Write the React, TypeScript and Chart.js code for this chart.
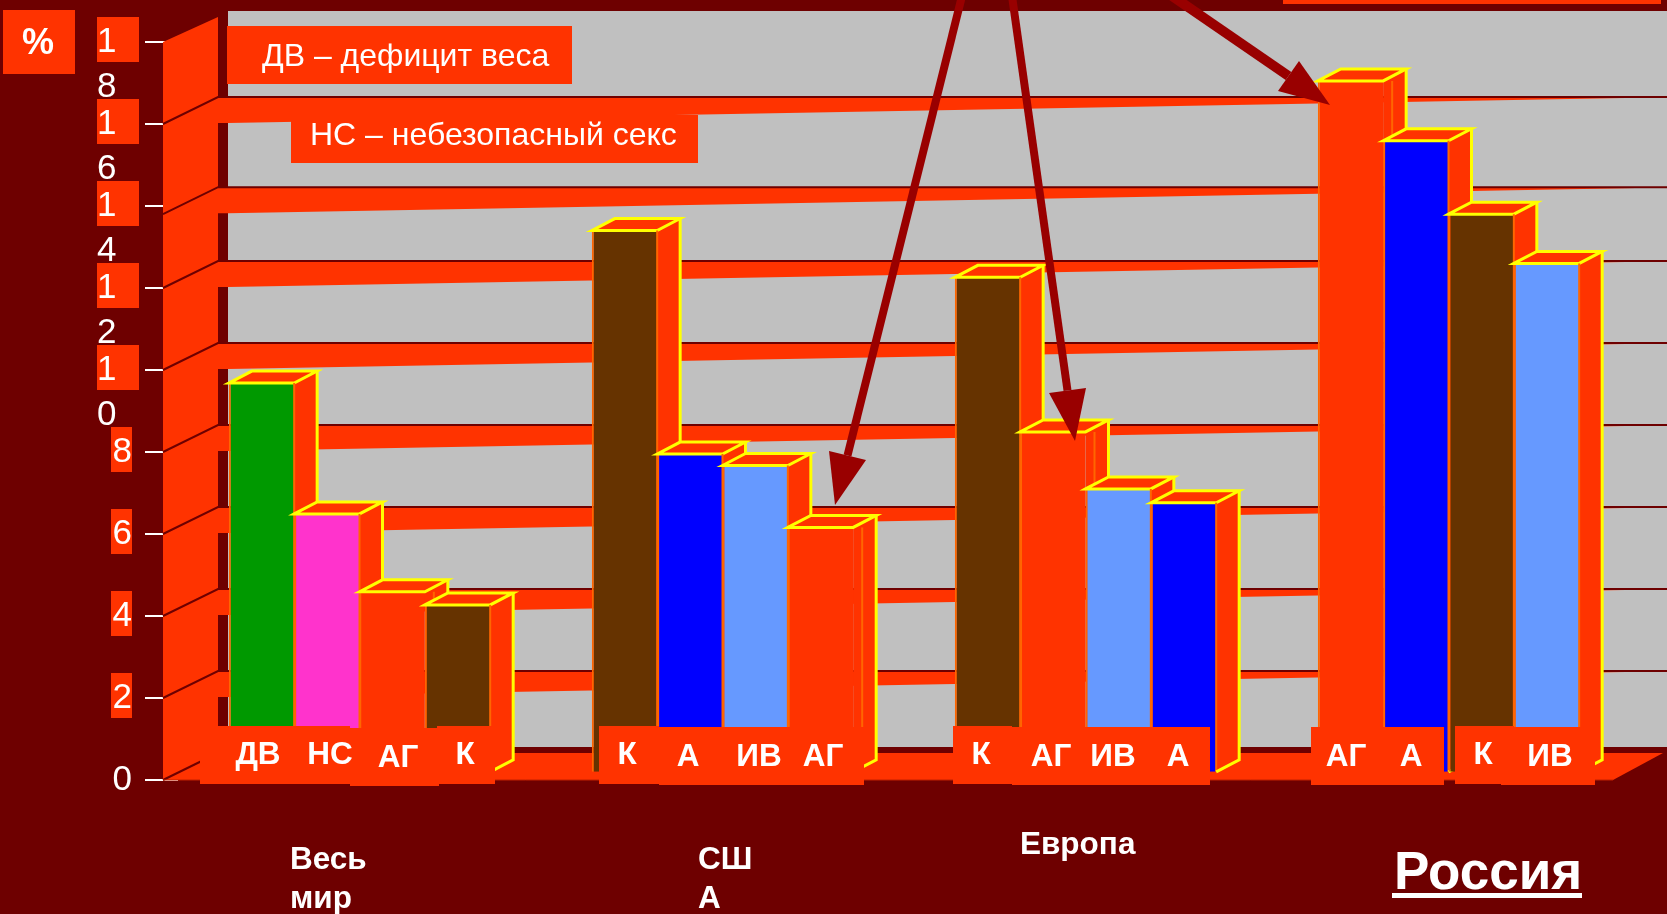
import React, { useEffect, useRef } from "react";
import { Chart, registerables } from "chart.js";

Chart.register(...registerables);

const regions = ["Весь мир", "США", "Европа", "Россия"];
const firstBar = [9.68, 13.4, 12.26, 17.05];
const secondBar = [6.49, 7.95, 8.49, 15.59];
const thirdBar = [4.59, 7.67, 7.1, 13.8];
const fourthBar = [4.27, 6.16, 6.76, 12.6];
const firstFactor = ["ДВ", "К", "К", "АГ"];
const secondFactor = ["НС", "А", "АГ", "А"];
const thirdFactor = ["АГ", "ИВ", "ИВ", "К"];
const fourthFactor = ["К", "АГ", "А", "ИВ"];
const gridValues = [2, 4, 6, 8, 10, 12, 13.8, 16];
const boxedTicks = [2, 4, 6, 8, 10, 12, 14, 16, 18];

const BG = "#6E0000";
const ORANGE = "#FF3300";
const EDGE = "#FF6600";
const YELLOW = "#FFFF00";
const GREY = "#C0C0C0";
const ARROW = "#990000";
const FONT = '"Liberation Sans", Arial, sans-serif';
const factorColor: Record<string, string> = {
  ДВ: "#009900",
  НС: "#FF33CC",
  АГ: ORANGE,
  К: "#663300",
  А: "#0000FF",
  ИВ: "#6699FF",
};

const WALL_X = 163;
const BACK_X = 218;
const GREY_X = 228;
const RIGHT = 1667;
const FLOOR_RIGHT = 1613;
const DEPTH_Y = 27;
const BAR_DX = 23;
const BAR_DY = 12;

// label plates under the bars: x0, x1, y0, y1
const plates = [
  [200, 350, 726, 784],
  [437, 495, 726, 784],
  [350, 439, 728, 786],
  [599, 659, 726, 784],
  [659, 864, 727, 785],
  [953, 1012, 726, 784],
  [1012, 1210, 727, 785],
  [1311, 1444, 727, 785],
  [1455, 1514, 726, 784],
  [1501, 1595, 727, 785],
];
// x centre and baseline of the factor names, by region and position
const factorX = [
  [258, 330, 398, 465],
  [627, 688, 759, 823],
  [981, 1051, 1113, 1178],
  [1346, 1411, 1483, 1550],
];
const factorBase = [
  [764, 764, 767, 764],
  [764, 766, 766, 766],
  [764, 766, 766, 766],
  [766, 766, 764, 766],
];
// shaft start, tip, two head corners, shaft width
const arrows = [
  [962, -4, 835, 505, 829, 451, 866, 460, 8],
  [1012, -4, 1075, 441, 1049, 393, 1086, 388, 8],
  [1172, -4, 1330, 105, 1299, 61, 1278, 91, 10],
];

function poly(ctx: CanvasRenderingContext2D, pts: number[][], fill?: string, stroke?: string, lw = 2) {
  ctx.beginPath();
  pts.forEach((p, i) => (i ? ctx.lineTo(p[0], p[1]) : ctx.moveTo(p[0], p[1])));
  ctx.closePath();
  if (fill) {
    ctx.fillStyle = fill;
    ctx.fill();
  }
  if (stroke) {
    ctx.strokeStyle = stroke;
    ctx.lineWidth = lw;
    ctx.lineJoin = "miter";
    ctx.stroke();
  }
}
function line(ctx: CanvasRenderingContext2D, pts: number[][], color: string, lw: number) {
  ctx.beginPath();
  pts.forEach((p, i) => (i ? ctx.lineTo(p[0], p[1]) : ctx.moveTo(p[0], p[1])));
  ctx.strokeStyle = color;
  ctx.lineWidth = lw;
  ctx.stroke();
}
function text(ctx: CanvasRenderingContext2D, s: string, x: number, y: number, font: string, align: CanvasTextAlign = "left") {
  ctx.font = font;
  ctx.textAlign = align;
  ctx.textBaseline = "alphabetic";
  ctx.fillStyle = "#FFFFFF";
  ctx.fillText(s, x, y);
}

const factorsByDataset = [firstFactor, secondFactor, thirdFactor, fourthFactor];

const scene = {
  id: "scene",
  beforeDraw(chart: any) {
    const { ctx } = chart;
    const y = chart.scales.y;
    ctx.save();
    ctx.fillStyle = ORANGE;
    boxedTicks.forEach((v) => {
      const py = y.getPixelForValue(v);
      if (v >= 10) ctx.fillRect(97, py - 25, 42, 45);
      else ctx.fillRect(111, py - 25, 21, 45);
    });
    ctx.fillRect(3, 10, 72, 64);
    ctx.restore();
  },
  beforeDatasetsDraw(chart: any) {
    const { ctx } = chart;
    const y = chart.scales.y;
    const zero = y.getPixelForValue(0);
    const top = y.getPixelForValue(18);
    const floorBack = zero - DEPTH_Y;
    ctx.save();
    ctx.fillStyle = GREY;
    ctx.fillRect(GREY_X, 11, RIGHT - GREY_X, floorBack - 6 - 11);
    // side wall
    poly(ctx, [[WALL_X, top], [BACK_X, top - 25], [BACK_X, floorBack], [WALL_X, zero]], ORANGE);
    // floor
    poly(ctx, [[WALL_X, zero], [BACK_X, floorBack], [RIGHT - 4, floorBack], [FLOOR_RIGHT, zero]], ORANGE);
    // grid shelves
    gridValues.forEach((v) => {
      const front = y.getPixelForValue(v);
      const back = front - DEPTH_Y;
      poly(ctx, [[BACK_X, back], [RIGHT, back], [1625, back + 1], [GREY_X, back + 26], [BACK_X, back + 26]], ORANGE);
      line(ctx, [[WALL_X, front], [BACK_X, back], [RIGHT, back]], BG, 2);
    });
    line(ctx, [[WALL_X, zero], [BACK_X, floorBack]], BG, 2);
    line(ctx, [[WALL_X, zero], [FLOOR_RIGHT, zero]], "#C02000", 1);
    ctx.restore();
  },
  // the library paints the leftmost dataset last; these bars need the rightmost on top
  beforeDatasetDraw() {
    return false;
  },
  afterDatasetsDraw(chart: any) {
    const { ctx } = chart;
    factorsByDataset.forEach((factors, index) => {
      const meta = chart.getDatasetMeta(index);
      meta.controller.draw();
      ctx.save();
      meta.data.forEach((bar: any, i: number) => {
        const l = bar.x - bar.width / 2;
        const r = bar.x + bar.width / 2;
        const t = bar.y;
        const b = bar.base;
        poly(ctx, [[r, t], [r + BAR_DX, t - BAR_DY], [r + BAR_DX, b - BAR_DY], [r, b]], ORANGE);
        poly(ctx, [[l, t], [l + BAR_DX, t - BAR_DY], [r + BAR_DX, t - BAR_DY], [r, t]], ORANGE, YELLOW, 3);
        if (factors[i] === "АГ") line(ctx, [[r + 9, t], [r + 9, b]], EDGE, 2);
        else line(ctx, [[r, t], [r, b]], EDGE, 2);
        line(ctx, [[r + BAR_DX, t - BAR_DY], [r + BAR_DX, b - BAR_DY], [r, b]], YELLOW, 3);
      });
      ctx.restore();
    });
  },
  afterDraw(chart: any) {
    const { ctx } = chart;
    ctx.save();
    // arrows
    arrows.forEach(([x0, y0, tx, ty, ax, ay, bx, by, w]) => {
      line(ctx, [[x0, y0], [(ax + bx) / 2, (ay + by) / 2]], ARROW, w);
      poly(ctx, [[tx, ty], [ax, ay], [bx, by]], ARROW);
    });
    // top-right plate
    ctx.fillStyle = ORANGE;
    ctx.fillRect(1283, 0, 378, 4);
    // legend notes
    ctx.fillRect(227, 26, 345, 58);
    ctx.fillRect(291, 115, 407, 48);
    text(ctx, "ДВ – дефицит веса", 262, 66, `32px ${FONT}`);
    text(ctx, "НС – небезопасный секс", 310, 145, `32px ${FONT}`);
    text(ctx, "%", 38, 54, `bold 36px ${FONT}`, "center");
    // factor plates
    ctx.fillStyle = ORANGE;
    plates.forEach(([x0, x1, y0, y1]) => ctx.fillRect(x0, y0, x1 - x0, y1 - y0));
    factorsByDataset.forEach((names, pos) => {
      names.forEach((n, reg) => {
        text(ctx, n, factorX[reg][pos], factorBase[reg][pos], `bold 31.5px ${FONT}`, "center");
      });
    });
    // regions
    const small = `bold 31.5px ${FONT}`;
    const [world, usa, europe, russia] = regions;
    const [w1, w2] = world.split(" ");
    text(ctx, w1, 290, 869, small);
    text(ctx, w2, 290, 908, small);
    text(ctx, usa.slice(0, 2), 698, 869, small);
    text(ctx, usa.slice(2), 698, 908, small);
    text(ctx, europe, 1020, 854, small);
    text(ctx, russia, 1394, 889, `bold 53px ${FONT}`);
    ctx.fillStyle = "#FFFFFF";
    ctx.fillRect(1392, 893, 190, 5);
    ctx.restore();
  },
};

const tickLabel = (v: number) => (v >= 10 ? ["", ...String(v)] : " \u2006" + v);

export default function App() {
  const ref = useRef<HTMLCanvasElement>(null);
  useEffect(() => {
    document.body.style.margin = "0";
    document.body.style.background = BG;
    const colours = (names: string[]) => names.map((n) => factorColor[n]);
    const mk = (label: string, data: number[], names: string[]) => ({
      label,
      data,
      base: 0.2,
      backgroundColor: colours(names),
      borderColor: EDGE,
      borderWidth: { left: 2, right: 0, top: 0, bottom: 0 },
      borderSkipped: false,
      categoryPercentage: 0.72,
      barPercentage: 1,
    });
    const chart = new Chart(ref.current as HTMLCanvasElement, {
      type: "bar",
      data: {
        labels: regions,
        datasets: [
          mk("1", firstBar, firstFactor),
          mk("2", secondBar, secondFactor),
          mk("3", thirdBar, thirdFactor),
          mk("4", fourthBar, fourthFactor),
        ],
      },
      options: {
        animation: false,
        responsive: false,
        layout: { padding: { left: 97, right: 37, top: 42, bottom: 134 } },
        plugins: { legend: { display: false }, tooltip: { enabled: false } },
        scales: {
          x: { display: false },
          y: {
            min: 0,
            max: 18,
            afterFit: (s: any) => {
              s.width = 81;
              s.paddingTop = 0;
              s.paddingBottom = 0;
            },
            border: { display: false },
            grid: { drawOnChartArea: false, color: "#FFFFFF", lineWidth: 2, tickLength: 33 },
            ticks: {
              stepSize: 2,
              autoSkip: false,
              crossAlign: "far",
              padding: 0,
              color: "#FFFFFF",
              font: { family: FONT, size: 35, lineHeight: 45 / 35 },
              callback: (v: any) => tickLabel(Number(v)),
            },
          },
        },
      } as any,
      plugins: [scene],
    } as any);
    return () => chart.destroy();
  }, []);
  return (
    <div style={{ position: "fixed", left: 0, top: 0, width: 1667, height: 914, background: BG, overflow: "hidden" }}>
      <canvas ref={ref} width={1667} height={914} style={{ display: "block", width: 1667, height: 914 }} />
    </div>
  );
}
